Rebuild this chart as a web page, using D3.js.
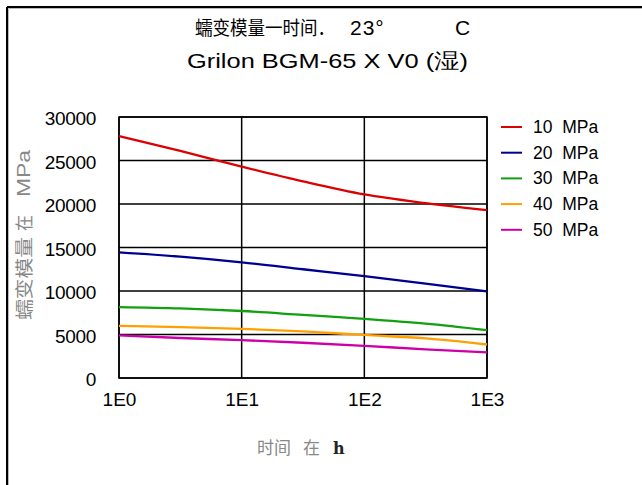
<!DOCTYPE html>
<html><head><meta charset="utf-8">
<script src="https://cdn.jsdelivr.net/npm/d3@7"></script>
<style>body{margin:0;background:#fff;}svg{display:block;}</style>
</head><body>
<svg id="c" width="642" height="485"></svg>
<script>
const hours = [1, 3.16, 10, 31.6, 100, 316, 1000];
const s10 = [27800, 26100, 24300, 22600, 21100, 20100, 19300];
const s20 = [14450, 13950, 13300, 12500, 11700, 10850, 9950];
const s30 = [8150, 8000, 7700, 7250, 6800, 6250, 5500];
const s40 = [6000, 5850, 5650, 5350, 4950, 4550, 3850];
const s50 = [4900, 4600, 4350, 4050, 3700, 3300, 2950];
const seriesNames = ["10 MPa", "20 MPa", "30 MPa", "40 MPa", "50 MPa"];
const seriesColors = ["#dd0000", "#000090", "#10a010", "#ffa000", "#cc00aa"];
const xTicks = [1, 10, 100, 1000];
const xTickLabels = ["1E0", "1E1", "1E2", "1E3"];
const yTicks = [0, 5000, 10000, 15000, 20000, 25000, 30000];

const series = [s10, s20, s30, s40, s50];
const svg = d3.select("#c");
const L = 119, R = 487, T = 117, B = 378;
const x = d3.scaleLog().domain([1, 1000]).range([L, R]);
const y = d3.scaleLinear().domain([0, 30000]).range([B, T]);
const font = "'Liberation Sans', Arial, sans-serif";
const cjk = "'Noto Sans CJK SC', sans-serif";

// frame
svg.append("line").attr("x1",7).attr("y1",7).attr("x2",642).attr("y2",7).attr("stroke","#000").attr("stroke-width",2);
svg.append("line").attr("x1",7).attr("y1",7).attr("x2",7).attr("y2",485).attr("stroke","#000").attr("stroke-width",2);
svg.append("line").attr("x1",8.5).attr("y1",8.5).attr("x2",642).attr("y2",8.5).attr("stroke","#bbb").attr("stroke-width",1);
svg.append("line").attr("x1",8.5).attr("y1",8.5).attr("x2",8.5).attr("y2",485).attr("stroke","#bbb").attr("stroke-width",1);

// titles
svg.append("text").attr("x",195).attr("y",35).attr("textLength",140).attr("lengthAdjust","spacingAndGlyphs")
  .style("font-family", cjk).style("font-size","19px").attr("fill","#000").text("蠕变模量一时间．");
svg.append("text").attr("x",350).attr("y",35).attr("letter-spacing","1")
  .style("font-family", font).style("font-size","21px").attr("fill","#000").text("23°");
svg.append("text").attr("x",455).attr("y",35)
  .style("font-family", font).style("font-size","21px").attr("fill","#000").text("C");
svg.append("text").attr("x",187).attr("y",68)
  .attr("textLength",281).attr("lengthAdjust","spacingAndGlyphs")
  .style("font-family", font).style("font-size","21px").attr("fill","#000").text("Grilon BGM-65 X V0 (湿)");

// grid
const g = svg.append("g");
g.selectAll(".gx").data(xTicks).join("line")
  .attr("x1",d=>x(d)).attr("x2",d=>x(d)).attr("y1",T).attr("y2",B)
  .attr("stroke","#000").attr("stroke-width",1.5);
g.selectAll(".gy").data(yTicks).join("line")
  .attr("x1",L).attr("x2",R).attr("y1",d=>y(d)).attr("y2",d=>y(d))
  .attr("stroke","#000").attr("stroke-width",1.5);
g.append("rect").attr("x",L).attr("y",T).attr("width",R-L).attr("height",B-T)
  .attr("fill","none").attr("stroke","#000").attr("stroke-width",1.5);

// axes labels via d3 axes
const yAxis = svg.append("g").attr("transform",`translate(${L},0)`)
  .call(d3.axisLeft(y).tickValues(yTicks).tickSize(0).tickPadding(23).tickFormat(d3.format("d")));
yAxis.select(".domain").remove();
yAxis.selectAll("text").style("font-family",font).style("font-size","19px").attr("fill","#000")
  .attr("letter-spacing","-0.3").attr("dy","0.42em");

const xAxis = svg.append("g").attr("transform",`translate(0,${B})`)
  .call(d3.axisBottom(x).tickValues(xTicks).tickSize(0).tickFormat((d,i)=>xTickLabels[i]));
xAxis.select(".domain").remove();
xAxis.selectAll("text").style("font-family",font).style("font-size","19px").attr("fill","#000")
  .attr("y",28).attr("dy","0");

// y axis title (rotated)
const yt = svg.append("g").attr("transform","translate(31,0) rotate(-90)");
yt.append("text").attr("x",-320).attr("y",0).attr("textLength",83).attr("lengthAdjust","spacingAndGlyphs")
  .style("font-family",cjk).style("font-size","18px").attr("fill","#888").text("蠕变模量");
yt.append("text").attr("x",-231).attr("y",0).attr("textLength",16).attr("lengthAdjust","spacingAndGlyphs")
  .style("font-family",cjk).style("font-size","18px").attr("fill","#888").text("在");
yt.append("text").attr("x",-197).attr("y",-1).attr("textLength",47).attr("lengthAdjust","spacingAndGlyphs")
  .style("font-family",font).style("font-size","18px").attr("fill","#888").text("MPa");

// x axis title
svg.append("text").attr("x",257).attr("y",454).style("font-family",cjk).style("font-size","17px")
  .attr("fill","#888").attr("textLength",34).attr("lengthAdjust","spacing").text("时间");
svg.append("text").attr("x",303).attr("y",454).style("font-family",cjk).style("font-size","17px")
  .attr("fill","#888").text("在");
svg.append("text").attr("x",333).attr("y",454).style("font-family","'DejaVu Serif', serif").style("font-size","16px")
  .style("font-weight","bold").attr("fill","#222").text("h");

// lines
const line = d3.line().x((d,i)=>x(hours[i])).y(d=>y(d)).curve(d3.curveMonotoneX);
svg.selectAll(".s").data(series).join("path")
  .attr("d", d=>line(d)).attr("fill","none")
  .attr("stroke",(d,i)=>seriesColors[i]).attr("stroke-width",2.3);

// legend
const lg = svg.append("g");
seriesNames.forEach((n,i)=>{
  const yy = 127 + i*25.7;
  lg.append("line").attr("x1",501).attr("x2",522).attr("y1",yy).attr("y2",yy)
    .attr("stroke",seriesColors[i]).attr("stroke-width",2);
  lg.append("text").attr("x",533).attr("y",yy+6).style("font-family",font).style("font-size","17.5px")
    .attr("fill","#000").text(n.replace(" ","\u00a0\u00a0"));
});
</script>
</body></html>
